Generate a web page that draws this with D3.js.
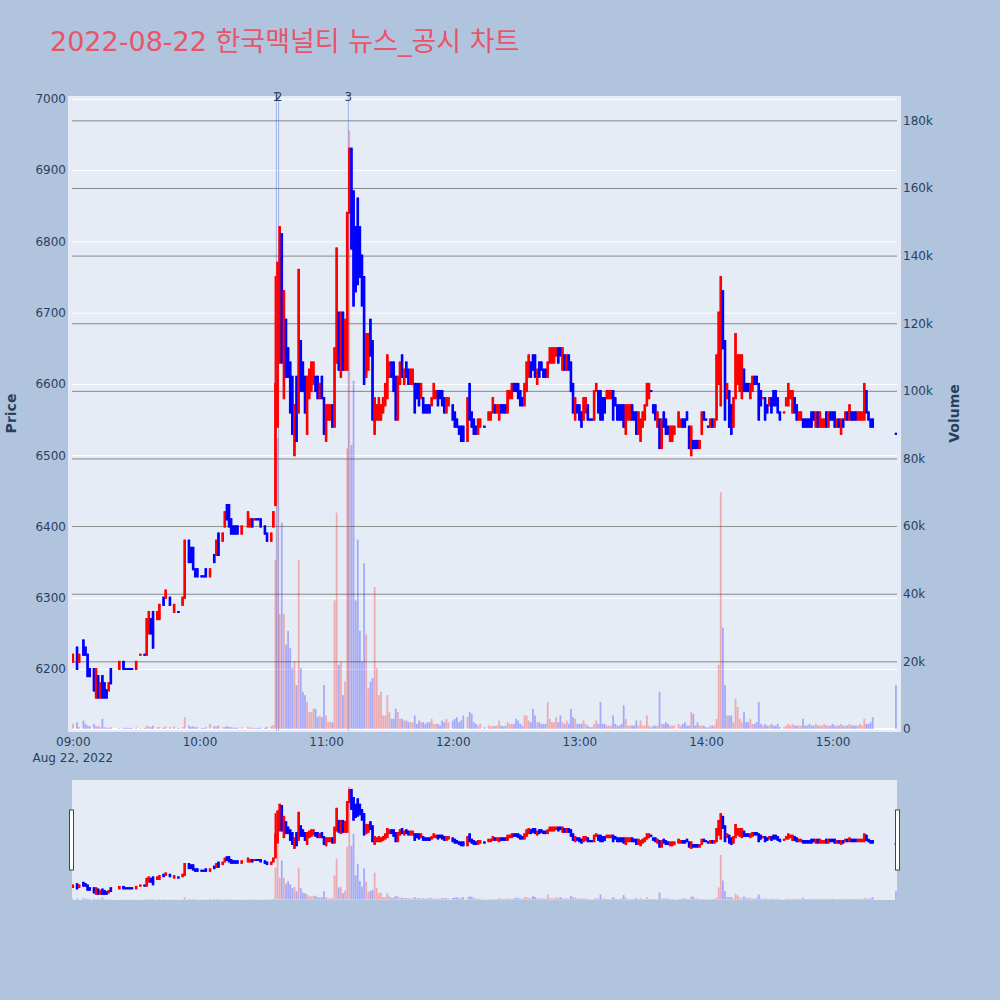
<!DOCTYPE html>
<html>
<head>
<meta charset="utf-8">
<script src="https://cdn.jsdelivr.net/npm/d3@7"></script>
<style>
  body { margin: 0; background: #b0c4de; }
  text { font-family: "DejaVu Sans", "Noto Sans CJK KR", sans-serif; fill: #2a3f5f; }
</style>
</head>
<body>
<div id="chart"></div>
<script>
// one row per minute: minutes after 09:00, open, high, low, close, volume (thousands)
var bars = [
  [0,6210,6220,6210,6220,1.5],[2,6230,6230,6200,6200,2],[3,6210,6220,6210,6220,0.6],
  [5,6240,6240,6220,6220,2.5],[6,6230,6230,6220,6220,1.5],[7,6220,6220,6190,6190,1],
  [8,6200,6200,6190,6190,0.8],[10,6200,6200,6170,6170,1.5],[11,6160,6200,6160,6200,0.8],
  [12,6190,6190,6160,6160,0.8],[13,6160,6180,6160,6180,0.5],[14,6190,6190,6160,6160,3],
  [15,6180,6180,6160,6160,0.5],[16,6170,6170,6160,6160,0.4],[17,6170,6180,6170,6180,0.3],
  [18,6200,6200,6180,6180,0.5],[22,6200,6210,6200,6210,0.3],[24,6210,6210,6200,6200,0.3],
  [25,6200,6200,6200,6200,0.4],[26,6200,6200,6200,6200,0.3],[27,6200,6200,6200,6200,0.3],
  [28,6200,6200,6200,6200,0.3],[30,6200,6210,6200,6210,0.5],[32,6220,6220,6220,6220,0.3],
  [34,6220,6220,6220,6220,0.3],[35,6220,6270,6220,6270,1],[36,6250,6280,6250,6280,0.8],
  [37,6270,6270,6250,6250,0.5],[38,6280,6280,6230,6230,1],[40,6270,6280,6270,6280,0.5],
  [41,6270,6290,6270,6290,0.6],[43,6300,6300,6290,6290,0.4],[44,6300,6310,6300,6310,0.8],
  [46,6300,6300,6290,6290,0.5],[48,6280,6290,6280,6290,0.8],[50,6280,6280,6280,6280,0.3],
  [52,6290,6300,6290,6300,0.6],[53,6300,6380,6300,6380,3.5],[55,6380,6380,6350,6350,1],
  [56,6370,6370,6350,6350,0.6],[57,6370,6370,6340,6340,0.8],[58,6340,6340,6330,6330,0.5],
  [59,6340,6340,6330,6330,0.5],[61,6330,6330,6330,6330,0.3],[62,6330,6330,6330,6330,0.3],
  [63,6340,6340,6330,6330,0.5],[65,6330,6340,6330,6340,1.5],[67,6360,6360,6350,6350,0.8],
  [68,6360,6380,6360,6380,0.8],[69,6390,6390,6360,6360,1],[71,6380,6390,6380,6390,0.5],
  [72,6400,6420,6400,6420,0.6],[73,6430,6430,6410,6410,0.8],[74,6430,6430,6400,6400,0.6],
  [75,6410,6410,6390,6390,0.5],[76,6400,6400,6390,6390,0.4],[77,6400,6400,6390,6390,0.4],
  [78,6400,6400,6390,6390,0.4],[80,6390,6400,6390,6400,0.5],[83,6400,6420,6400,6420,0.6],
  [84,6400,6410,6400,6410,0.4],[85,6410,6410,6400,6400,0.4],[86,6410,6410,6410,6410,0.3],
  [87,6410,6410,6410,6410,0.3],[88,6410,6410,6410,6410,0.3],[89,6410,6410,6400,6400,0.4],
  [91,6400,6400,6390,6390,0.4],[92,6390,6390,6380,6380,0.6],[94,6380,6390,6380,6390,0.8],
  [95,6400,6420,6400,6420,1.2],
  [96,6430,6750,6430,6600,50],[97,6540,6770,6540,6770,86],[98,6630,6820,6630,6820,34],
  [99,6810,6810,6630,6630,61],[100,6580,6730,6580,6730,34],[101,6690,6690,6610,6610,25],
  [102,6650,6650,6610,6610,29],[103,6630,6630,6560,6560,24],[104,6610,6610,6530,6530,18],
  [105,6500,6570,6500,6570,20],[106,6610,6610,6520,6520,13],[107,6560,6760,6560,6760,50],
  [108,6660,6660,6590,6590,18],[109,6630,6630,6590,6590,11],[110,6610,6610,6560,6560,10],
  [111,6530,6610,6530,6610,8],[112,6580,6620,6580,6620,5],[113,6590,6630,6590,6630,5],
  [114,6600,6630,6600,6630,6],[115,6610,6610,6590,6590,6],[116,6610,6610,6580,6580,3.5],
  [117,6580,6600,6580,6600,4],[118,6610,6610,6580,6580,3.5],[119,6580,6580,6530,6530,13],
  [120,6520,6570,6520,6570,4],[121,6550,6570,6550,6570,2],[122,6550,6570,6550,6570,2],
  [123,6570,6570,6540,6540,2],[124,6540,6650,6540,6650,38],[125,6630,6790,6630,6790,64],
  [126,6700,6700,6620,6620,19],[127,6610,6700,6610,6700,20],[128,6700,6700,6620,6620,10],
  [129,6620,6690,6620,6690,14],[130,6620,6840,6620,6840,83],[131,6840,6930,6840,6930,177],
  [132,6930,6930,6790,6790,84],[133,6870,6870,6710,6710,103],[134,6820,6820,6730,6730,38],
  [135,6860,6860,6740,6740,56],[136,6820,6820,6750,6750,29],[137,6780,6780,6710,6710,20],
  [138,6750,6750,6600,6600,49],[139,6610,6670,6610,6670,28],[140,6620,6670,6620,6670,12],
  [141,6690,6690,6640,6640,14],[142,6660,6660,6550,6550,15],[143,6530,6580,6530,6580,42],
  [144,6550,6570,6550,6570,18],[145,6550,6580,6550,6580,10],[146,6550,6570,6550,6570,11],
  [147,6560,6580,6560,6580,4],[148,6570,6600,6570,6600,4],[149,6580,6640,6580,6640,10],
  [150,6610,6630,6610,6630,5],[151,6630,6630,6610,6610,3],[152,6630,6630,6590,6590,3],
  [153,6610,6610,6550,6550,6],[154,6550,6610,6550,6610,5],[155,6600,6630,6600,6630,3],
  [156,6640,6640,6610,6610,3],[157,6600,6620,6600,6620,2.5],[158,6630,6630,6610,6610,2.5],
  [159,6620,6620,6600,6600,2],[160,6600,6620,6600,6620,2],[161,6600,6620,6600,6620,2],
  [162,6600,6600,6560,6560,4],[163,6600,6600,6580,6580,1.5],[164,6600,6600,6570,6570,2.5],
  [165,6580,6600,6580,6600,2],[166,6580,6580,6560,6560,2],[167,6570,6570,6560,6560,1.5],
  [168,6570,6570,6560,6560,2],[169,6570,6570,6560,6560,2],[170,6570,6580,6570,6580,3],
  [171,6580,6600,6580,6600,1.5],[172,6580,6590,6580,6590,1.5],[173,6590,6590,6570,6570,1.5],
  [174,6590,6590,6580,6580,1],[175,6590,6590,6570,6570,2.5],[176,6580,6580,6560,6560,2],
  [177,6560,6580,6560,6580,3],[178,6570,6580,6570,6580,2],[180,6570,6570,6550,6550,2.5],
  [181,6560,6560,6540,6540,3],[182,6550,6550,6540,6540,3.5],[183,6540,6540,6530,6530,2],
  [184,6540,6540,6520,6520,2.5],[185,6540,6540,6520,6520,4],[187,6520,6580,6520,6580,3.5],
  [188,6600,6600,6550,6550,5],[189,6560,6560,6540,6540,4.5],[190,6550,6550,6530,6530,2],
  [191,6540,6540,6530,6530,1.5],[192,6530,6550,6530,6550,1],[193,6540,6550,6540,6550,1.5],
  [195,6540,6540,6540,6540,0.5],[197,6550,6560,6550,6560,1],[198,6550,6560,6550,6560,0.8],
  [199,6560,6580,6560,6580,1],[200,6570,6570,6560,6560,0.8],[201,6560,6570,6560,6570,1],
  [202,6550,6570,6550,6570,2.5],[203,6570,6570,6560,6560,1],[204,6570,6570,6560,6560,0.8],
  [205,6570,6570,6560,6560,1],[206,6560,6590,6560,6590,2],[207,6580,6590,6580,6590,1.5],
  [208,6580,6600,6580,6600,1.5],[209,6600,6600,6590,6590,1.5],[210,6600,6600,6590,6590,3],
  [211,6600,6600,6580,6580,2.5],[212,6590,6590,6570,6570,1.5],[213,6580,6580,6570,6570,1],
  [214,6570,6600,6570,6600,4],[215,6590,6630,6590,6630,4],[216,6610,6640,6610,6640,2.5],
  [217,6630,6630,6610,6610,2],[218,6640,6640,6620,6620,6],[219,6640,6640,6610,6610,4],
  [220,6600,6620,6600,6620,2],[221,6630,6630,6610,6610,2],[222,6630,6630,6620,6620,1.5],
  [223,6620,6620,6610,6610,1.5],[224,6620,6620,6610,6610,1.5],[225,6610,6630,6610,6630,8],
  [226,6630,6650,6630,6650,3],[227,6630,6650,6630,6650,2],[228,6630,6650,6630,6650,2],
  [229,6640,6650,6640,6650,3.5],[230,6650,6650,6630,6630,2],[231,6650,6650,6640,6640,4],
  [232,6620,6650,6620,6650,2],[233,6640,6640,6620,6620,1.5],[234,6620,6640,6620,6640,2.5],
  [235,6640,6640,6620,6620,1.5],[236,6630,6630,6590,6590,6],[237,6600,6600,6560,6560,3.5],
  [238,6550,6580,6550,6580,3],[239,6570,6570,6560,6560,1.5],[240,6570,6570,6550,6550,1.5],
  [241,6560,6560,6540,6540,1.5],[242,6550,6580,6550,6580,2.5],[243,6560,6580,6560,6580,1.5],
  [244,6570,6570,6550,6550,1],[245,6550,6550,6550,6550,0.5],[246,6550,6550,6550,6550,0.5],
  [247,6550,6590,6550,6590,1.5],[248,6590,6600,6590,6600,2.5],[249,6590,6590,6560,6560,1.5],
  [250,6590,6590,6550,6550,8],[251,6580,6580,6550,6550,1.5],[252,6580,6580,6560,6560,1.5],
  [253,6580,6590,6580,6590,1],[254,6580,6590,6580,6590,1],[255,6580,6590,6580,6590,1],
  [256,6590,6590,6550,6550,4],[257,6580,6580,6570,6570,1.5],[258,6570,6570,6550,6550,1],
  [259,6570,6570,6550,6550,1],[260,6570,6570,6550,6550,1.5],[261,6570,6570,6540,6540,7],
  [262,6530,6570,6530,6570,3],[263,6550,6570,6550,6570,1],[264,6550,6570,6550,6570,1],
  [265,6570,6570,6550,6550,1],[266,6560,6560,6550,6550,1],[267,6560,6560,6530,6530,2.5],
  [268,6530,6560,6530,6560,1],[269,6520,6550,6520,6550,2.5],[270,6540,6560,6540,6560,1],
  [271,6550,6570,6550,6570,1],[272,6570,6600,6570,6600,4],[273,6580,6600,6580,6600,1],
  [274,6590,6590,6590,6590,0.5],[275,6570,6570,6560,6560,1],[276,6570,6570,6550,6550,1],
  [277,6540,6560,6540,6560,1],[278,6550,6550,6510,6510,11],[279,6510,6550,6510,6550,1.5],
  [280,6560,6560,6540,6540,1.5],[281,6550,6550,6530,6530,2],[282,6540,6540,6530,6530,1.5],
  [283,6520,6540,6520,6540,1],[284,6520,6540,6520,6540,1],[285,6530,6540,6530,6540,1],
  [287,6540,6560,6540,6560,1.5],[288,6540,6550,6540,6550,1],[289,6550,6550,6540,6540,1.5],
  [290,6550,6550,6540,6540,2],[291,6560,6560,6550,6550,1],[292,6540,6540,6510,6510,1],
  [293,6500,6540,6500,6540,5],[294,6520,6520,6510,6510,4.5],[295,6520,6520,6510,6510,1],
  [296,6520,6520,6510,6510,2],[297,6510,6520,6510,6520,1],[298,6530,6560,6530,6560,1],
  [299,6560,6560,6550,6550,1],[300,6550,6550,6550,6550,0.5],[301,6540,6540,6540,6540,0.5],
  [302,6540,6550,6540,6550,1],[303,6550,6550,6540,6540,1],[304,6540,6550,6540,6550,1],
  [305,6550,6640,6550,6640,3],[306,6600,6700,6600,6700,19],[307,6570,6750,6570,6750,70],
  [308,6730,6730,6650,6650,30],[309,6660,6660,6550,6550,13],[310,6580,6600,6580,6600,4],
  [311,6590,6590,6540,6540,4],[312,6570,6570,6530,6530,4],[313,6540,6580,6540,6580,2],
  [314,6580,6670,6580,6670,9],[315,6600,6640,6600,6640,6.5],[316,6590,6640,6590,6640,3],
  [317,6580,6640,6580,6640,2],[318,6620,6620,6590,6590,5],[319,6600,6600,6590,6590,2],
  [320,6600,6600,6590,6590,2],[321,6580,6600,6580,6600,3],[322,6590,6610,6590,6610,1.5],
  [323,6610,6610,6600,6600,1.5],[324,6610,6610,6600,6600,2],[325,6600,6600,6550,6550,8],
  [326,6590,6590,6570,6570,1.5],[327,6580,6580,6580,6580,1],[328,6580,6580,6550,6550,1.5],
  [329,6570,6570,6560,6560,1],[330,6570,6580,6570,6580,1],[331,6580,6580,6560,6560,1.5],
  [332,6590,6590,6570,6570,1],[333,6590,6590,6570,6570,1],[334,6580,6580,6560,6560,1.5],
  [335,6560,6560,6550,6550,0.5],[337,6560,6560,6560,6560,0.5],[338,6570,6580,6570,6580,1],
  [339,6570,6600,6570,6600,1.5],[340,6580,6590,6580,6590,1],[341,6560,6590,6560,6590,1.5],
  [342,6580,6580,6560,6560,1],[343,6570,6570,6550,6550,1],[344,6550,6560,6550,6560,1],
  [345,6550,6560,6550,6560,1],[346,6550,6550,6540,6540,3],[347,6550,6550,6540,6540,1],
  [348,6550,6550,6540,6540,1],[349,6550,6550,6540,6540,1.5],[350,6560,6560,6540,6540,1],
  [351,6560,6560,6550,6550,1],[352,6540,6560,6540,6560,1.5],[353,6560,6560,6540,6540,1],
  [354,6540,6560,6540,6560,1],[355,6540,6550,6540,6550,1],[356,6540,6550,6540,6550,1.5],
  [357,6560,6560,6540,6540,1],[358,6540,6560,6540,6560,1],[359,6560,6560,6550,6550,1],
  [360,6560,6560,6550,6550,1.5],[361,6560,6560,6540,6540,1],[362,6540,6550,6540,6550,1],
  [363,6550,6550,6540,6540,1],[364,6530,6550,6530,6550,1.5],[365,6550,6550,6540,6540,1],
  [366,6550,6560,6550,6560,1],[367,6560,6560,6550,6550,1],[368,6550,6570,6550,6570,1.5],
  [369,6560,6560,6550,6550,1],[370,6560,6560,6550,6550,1],[371,6560,6560,6550,6550,1],
  [372,6550,6560,6550,6560,1],[373,6550,6560,6550,6560,1.5],[374,6550,6560,6550,6560,1],
  [375,6550,6600,6550,6600,3],[376,6590,6590,6560,6560,1.5],[377,6560,6560,6550,6550,1.5],
  [378,6550,6550,6540,6540,2],[379,6550,6550,6540,6540,3.5],
  [390,6530,6530,6530,6530,13]
];

// news / disclosure markers
var newsTimes = ["10:36:25", "10:37:30", "11:10:30"];
var newsLabels = ["1", "2", "3"];

// tick values
var priceTicks = [6200, 6300, 6400, 6500, 6600, 6700, 6800, 6900, 7000];
var volumeTicks = [0, 20, 40, 60, 80, 100, 120, 140, 160, 180];

var upColor = "#ff0000", downColor = "#0000ff";
var day = new Date(2022, 7, 22, 9, 0, 0);

function minuteToDate(m) {
  return new Date(day.getTime() + m * 60000);
}

function parseClock(s) {
  var p = s.split(":").map(Number);
  return new Date(2022, 7, 22, p[0], p[1], p[2] || 0);
}

// candle colour: close vs open, ties decided by previous close
bars.forEach(function (d, i) {
  if (d[4] > d[1]) d.up = true;
  else if (d[4] < d[1]) d.up = false;
  else d.up = i > 0 && d[4] > bars[i - 1][4];
});

var plot = { left: 72, right: 897, top: 96, bottom: 731 };
var slider = { top: 780, bottom: 900 };

var svg = d3.select("#chart")
  .append("svg")
  .attr("width", 1000)
  .attr("height", 1000);

svg.append("rect")
  .attr("width", 1000)
  .attr("height", 1000)
  .attr("fill", "#b0c4de");

// title
svg.append("text")
  .attr("x", 50)
  .attr("y", 51)
  .style("font-size", "27px")
  .style("fill", "#e9546a")
  .text("2022-08-22 한국맥널티 뉴스_공시 차트");

// scales
var x = d3.scaleTime()
  .domain([minuteToDate(-0.4), minuteToDate(390.5)])
  .range([plot.left, plot.right]);

var yPrice = d3.scaleLinear()
  .domain([6113, 7004])
  .range([plot.bottom, plot.top]);

var yVol = d3.scaleLinear()
  .domain([-0.6, 187.2])
  .range([plot.bottom, plot.top]);

// plot background
svg.append("rect")
  .attr("x", 68)
  .attr("y", plot.top)
  .attr("width", 901 - 68)
  .attr("height", plot.bottom + 1 - plot.top)
  .attr("fill", "#e5ecf6");

// price gridlines (white)
svg.append("g")
  .attr("transform", "translate(" + plot.left + ",0)")
  .call(d3.axisLeft(yPrice)
    .tickValues(priceTicks)
    .tickSize(-(plot.right - plot.left))
    .tickFormat(""))
  .call(function (g) { g.select(".domain").remove(); })
  .selectAll("line")
  .attr("stroke", "#ffffff")
  .attr("stroke-width", 1);

// volume gridlines (gray)
svg.append("g")
  .attr("transform", "translate(" + plot.left + ",0)")
  .call(d3.axisLeft(yVol)
    .tickValues(volumeTicks.slice(1))
    .tickSize(-(plot.right - plot.left))
    .tickFormat(""))
  .call(function (g) { g.select(".domain").remove(); })
  .selectAll("line")
  .attr("stroke", "#888888")
  .attr("stroke-width", 1);

// volume zero line
svg.append("line")
  .attr("x1", plot.left)
  .attr("x2", plot.right)
  .attr("y1", yVol(0))
  .attr("y2", yVol(0))
  .attr("stroke", "#ffffff")
  .attr("stroke-width", 2);

// clip paths
var defs = svg.append("defs");
defs.append("clipPath").attr("id", "clipMain")
  .append("rect")
  .attr("x", plot.left).attr("y", plot.top)
  .attr("width", plot.right - plot.left).attr("height", plot.bottom - plot.top);
defs.append("clipPath").attr("id", "clipSlider")
  .append("rect")
  .attr("x", plot.left).attr("y", slider.top)
  .attr("width", plot.right - plot.left).attr("height", slider.bottom - slider.top);

// news marker lines
var newsDates = newsTimes.map(parseClock);
svg.append("g")
  .selectAll("line")
  .data(newsDates)
  .enter()
  .append("line")
  .attr("x1", function (d) { return x(d); })
  .attr("x2", function (d) { return x(d); })
  .attr("y1", plot.top)
  .attr("y2", plot.bottom)
  .attr("stroke", "rgba(65,105,225,0.45)")
  .attr("stroke-width", 1);

// candles + volume bars
function drawCandles(g, yP, yV) {
  g.selectAll(".wick")
    .data(bars)
    .enter()
    .append("rect")
    .attr("x", function (d) { return x(minuteToDate(d[0])) - 0.9; })
    .attr("width", 1.8)
    .attr("y", function (d) { return yP(d[2]) - 1; })
    .attr("height", function (d) { return yP(d[3]) - yP(d[2]) + 2; })
    .attr("fill", function (d) { return d.up ? upColor : downColor; });

  g.selectAll(".body")
    .data(bars)
    .enter()
    .append("rect")
    .attr("x", function (d) { return x(minuteToDate(d[0])) - 1.3; })
    .attr("width", 2.6)
    .attr("y", function (d) { return yP(Math.max(d[1], d[4])) - 1; })
    .attr("height", function (d) { return Math.abs(yP(d[1]) - yP(d[4])) + 2; })
    .attr("fill", function (d) { return d.up ? upColor : downColor; });

  g.selectAll(".vol")
    .data(bars)
    .enter()
    .append("rect")
    .attr("x", function (d) { return x(minuteToDate(d[0])) - 0.9; })
    .attr("width", 1.8)
    .attr("y", function (d) { return yV(d[5]); })
    .attr("height", function (d) { return yV(0) - yV(d[5]); })
    .attr("fill", function (d) { return d.up ? upColor : downColor; })
    .attr("fill-opacity", 0.28);
}

drawCandles(svg.append("g").attr("clip-path", "url(#clipMain)"), yPrice, yVol);

// news labels (the first two sit almost on top of each other, as in the source)
svg.append("g")
  .selectAll("text")
  .data(newsDates)
  .enter()
  .append("text")
  .attr("x", function (d) { return x(d); })
  .attr("y", 100.7)
  .attr("text-anchor", "middle")
  .style("font-size", "12px")
  .text(function (d, i) { return newsLabels[i]; });

// price axis
svg.append("g")
  .attr("transform", "translate(" + plot.left + ",0)")
  .call(d3.axisLeft(yPrice)
    .tickValues(priceTicks)
    .tickSize(0)
    .tickPadding(6)
    .tickFormat(d3.format("d")))
  .call(function (g) { g.select(".domain").remove(); })
  .selectAll("text")
  .style("font-size", "12px")
  .style("font-family", "'DejaVu Sans', sans-serif")
  .attr("fill", "#2a3f5f");

// volume axis
svg.append("g")
  .attr("transform", "translate(" + plot.right + ",0)")
  .call(d3.axisRight(yVol)
    .tickValues(volumeTicks)
    .tickSize(0)
    .tickPadding(6)
    .tickFormat(function (v) { return v === 0 ? "0" : v + "k"; }))
  .call(function (g) { g.select(".domain").remove(); })
  .selectAll("text")
  .style("font-size", "12px")
  .style("font-family", "'DejaVu Sans', sans-serif")
  .attr("fill", "#2a3f5f");

// time axis
svg.append("g")
  .attr("transform", "translate(0," + plot.bottom + ")")
  .call(d3.axisBottom(x)
    .ticks(d3.timeHour.every(1))
    .tickFormat(d3.timeFormat("%H:%M"))
    .tickSize(0)
    .tickPadding(6))
  .call(function (g) { g.select(".domain").remove(); })
  .selectAll("text")
  .style("font-size", "12px")
  .style("font-family", "'DejaVu Sans', sans-serif")
  .attr("fill", "#2a3f5f");

svg.append("text")
  .attr("x", x(minuteToDate(0)))
  .attr("y", 762)
  .attr("text-anchor", "middle")
  .style("font-size", "12px")
  .text(d3.timeFormat("%b %-d, %Y")(day));

// axis titles
svg.append("text")
  .attr("transform", "translate(16," + ((plot.top + plot.bottom) / 2) + ") rotate(-90)")
  .attr("text-anchor", "middle")
  .style("font-size", "14px")
  .style("font-weight", "bold")
  .text("Price");

svg.append("text")
  .attr("transform", "translate(959," + ((plot.top + plot.bottom) / 2) + ") rotate(-90)")
  .attr("text-anchor", "middle")
  .style("font-size", "14px")
  .style("font-weight", "bold")
  .text("Volume");

// range slider
svg.append("rect")
  .attr("x", plot.left)
  .attr("y", slider.top)
  .attr("width", plot.right - plot.left)
  .attr("height", slider.bottom - slider.top)
  .attr("fill", "#e5ecf6");

var sliderPrice = d3.scaleLinear().domain(yPrice.domain()).range([slider.bottom, slider.top]);
var sliderVol = d3.scaleLinear().domain(yVol.domain()).range([slider.bottom, slider.top]);
drawCandles(svg.append("g").attr("clip-path", "url(#clipSlider)"), sliderPrice, sliderVol);

// slider grabbers
[plot.left - 2.5, plot.right - 1.5].forEach(function (hx) {
  svg.append("rect")
    .attr("x", hx)
    .attr("y", 810)
    .attr("width", 4)
    .attr("height", 60)
    .attr("fill", "#ffffff")
    .attr("stroke", "#444444")
    .attr("stroke-width", 1);
});
</script>
</body>
</html>
